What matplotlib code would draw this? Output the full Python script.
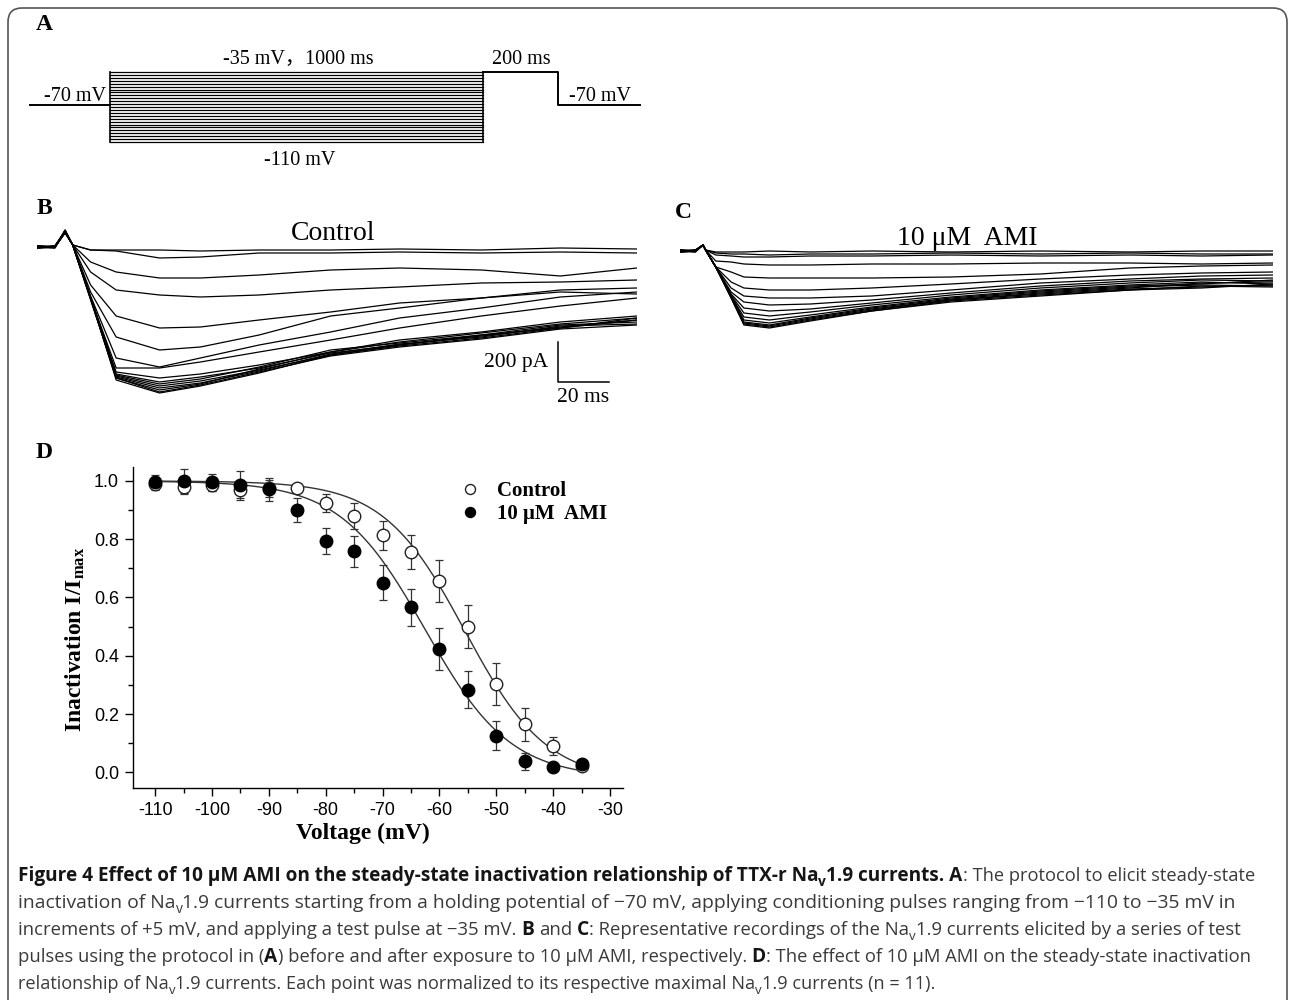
import numpy as np
import matplotlib
matplotlib.use("Agg")
import matplotlib.pyplot as plt
from matplotlib.patches import FancyBboxPatch
from matplotlib.ticker import MultipleLocator, FormatStrFormatter

W, H = 1290, 1000
SERIF = ["Liberation Serif", "Noto Sans CJK SC", "DejaVu Serif"]
SANS = ["Liberation Sans", "DejaVu Sans"]
CAP = ["Open Sans", "DejaVu Sans"]

plt.rcParams["font.family"] = SANS
plt.rcParams["axes.unicode_minus"] = False
plt.rcParams["mathtext.fontset"] = "custom"
plt.rcParams["mathtext.rm"] = "Liberation Serif"
plt.rcParams["mathtext.bf"] = "Liberation Serif:bold"
plt.rcParams["mathtext.it"] = "Liberation Serif:italic"

# ---------------- A: voltage protocol (mV, ms) ----------------
hold_mv = -70
test_mv = -35
pre_ms, cond_ms, test_ms, post_ms = 215, 1000, 200, 220
# conditioning steps as drawn in the schematic
cond_levels = [-110, -106.875, -103.75, -100.625, -97.5, -94.375, -91.25,
               -88.125, -85, -81.875, -78.75, -75.625, -72.5, -69.375,
               -66.25, -63.125, -60, -56.875, -53.75, -50.625, -47.5,
               -44.375, -41.25, -38.125, -35]

# ---------------- B: control current traces (pA vs ms) ----------------
t_ctrl = [0, 7, 11, 14, 21, 31, 48, 64, 87, 115, 142, 174, 205, 235]
ctrl_traces = [
    [5, 0, 75, 10, -15, -15, -15, -20, -15, -15, -10, -15, -5, -10],
    [-5, 0, 70, 10, -15, -20, -55, -50, -30, -30, -25, -30, -25, -30],
    [0, 5, 75, 10, -75, -125, -155, -155, -140, -115, -105, -115, -145, -105],
    [5, 0, 80, 10, -125, -215, -240, -250, -240, -215, -200, -180, -175, -165],
    [0, -5, 75, 10, -190, -345, -405, -400, -365, -325, -280, -255, -225, -235],
    [-5, 0, 70, 10, -225, -450, -515, -500, -440, -345, -305, -255, -215, -205],
    [0, 5, 80, 10, -245, -555, -600, -555, -490, -425, -355, -305, -250, -225],
    [5, 0, 75, 10, -255, -605, -605, -575, -525, -465, -405, -345, -295, -255],
    [0, 0, 85, 10, -255, -625, -655, -635, -590, -525, -475, -430, -385, -355],
    [-5, 5, 75, 10, -260, -635, -675, -650, -605, -530, -490, -445, -400, -365],
    [0, 0, 80, 10, -250, -640, -685, -660, -600, -515, -480, -440, -390, -375],
    [5, 0, 75, 10, -255, -645, -695, -670, -615, -540, -495, -455, -405, -355],
    [0, -5, 85, 10, -265, -650, -705, -680, -620, -535, -485, -450, -395, -385],
    [-5, 0, 75, 10, -255, -655, -715, -685, -610, -525, -465, -425, -375, -345],
    [0, 5, 80, 10, -260, -655, -725, -690, -625, -545, -500, -460, -410, -390],
    [5, 0, 75, 10, -255, -665, -730, -695, -630, -540, -490, -440, -405, -365],
]

# ---------------- C: 10 uM AMI current traces (pA vs ms) ----------------
t_ami = [0, 6, 9, 10, 14, 20, 25, 35, 51, 75, 106, 141, 176, 204, 232]
ami_traces = [
    [0, 0, 30, 5, -5, -5, -5, 0, -5, 0, -5, 0, -5, 0, 0],
    [5, 0, 30, 5, -10, -15, -15, -20, -15, -15, -10, -15, -10, -15, -15],
    [0, -5, 30, 5, -20, -25, -30, -30, -25, -25, -20, -25, -20, -25, -20],
    [-5, 0, 30, 5, -50, -55, -65, -70, -70, -65, -65, -60, -60, -65, -60],
    [0, 5, 30, 5, -80, -105, -130, -135, -135, -135, -130, -115, -85, -75, -70],
    [5, 0, 30, 5, -80, -155, -185, -195, -195, -185, -165, -140, -120, -110, -105],
    [0, 0, 30, 5, -80, -185, -225, -235, -235, -225, -195, -160, -140, -125, -120],
    [-5, 0, 30, 5, -80, -205, -255, -270, -265, -245, -210, -175, -150, -140, -135],
    [0, 5, 30, 5, -80, -215, -285, -300, -290, -260, -220, -185, -160, -145, -150],
    [5, 0, 30, 5, -80, -220, -310, -325, -305, -270, -230, -195, -170, -155, -165],
    [0, -5, 30, 5, -80, -225, -330, -345, -320, -280, -235, -200, -175, -165, -145],
    [-5, 0, 30, 5, -80, -225, -345, -360, -330, -285, -240, -205, -180, -170, -175],
    [0, 0, 30, 5, -80, -230, -355, -370, -335, -290, -245, -210, -185, -160, -155],
    [5, 0, 30, 5, -80, -230, -360, -375, -340, -295, -245, -215, -190, -180, -170],
    [0, 5, 30, 5, -80, -235, -365, -380, -345, -300, -250, -220, -195, -175, -180],
    [-5, 0, 30, 5, -80, -235, -370, -385, -350, -300, -255, -225, -195, -185, -165],
]
scale_pA, scale_ms = 200, 20

# ---------------- D: steady-state inactivation ----------------
volt = [-110, -105, -100, -95, -90, -85, -80, -75, -70, -65, -60, -55, -50, -45, -40, -35]
ctrl = [0.99, 0.98, 0.985, 0.97, 0.975, 0.977, 0.925, 0.88, 0.814, 0.756, 0.658, 0.50,
        0.303, 0.164, 0.09, 0.02]
ctrl_err = [0.02, 0.025, 0.02, 0.03, 0.03, 0.01, 0.03, 0.045, 0.05, 0.057, 0.072, 0.074,
            0.073, 0.057, 0.03, 0.01]
ami = [0.998, 1.0, 0.995, 0.985, 0.971, 0.90, 0.793, 0.759, 0.651, 0.566, 0.424, 0.283,
       0.126, 0.037, 0.017, 0.027]
ami_err = [0.023, 0.04, 0.03, 0.05, 0.04, 0.04, 0.044, 0.053, 0.061, 0.063, 0.072, 0.063,
           0.051, 0.03, 0.01, 0.01]
# Boltzmann fits: (V1/2, slope k, bottom)
ctrl_fit = (-55.5, 7.2, -0.03)
ami_fit = (-62.5, 7.5, -0.02)


def boltz(v, vh, k, bottom):
    return bottom + (1 - bottom) / (1 + np.exp((v - vh) / k))


fig = plt.figure(figsize=(W / 100, H / 100), dpi=100)
fig.patch.set_facecolor("white")

ov = fig.add_axes([0, 0, 1, 1])
ov.set_xlim(0, W)
ov.set_ylim(H, 0)
ov.axis("off")


def box(x0, y0, x1, y1):
    return fig.add_axes([x0 / W, 1 - y1 / H, (x1 - x0) / W, (y1 - y0) / H])


# rounded frame round the whole figure
ov.add_patch(FancyBboxPatch((8, 8), 1279, 1100, boxstyle="round,pad=0,rounding_size=14",
                            fill=False, ec="#555555", lw=1.2, clip_on=False))

# panel letters
for lab, x, y in [("A", 44, 24), ("B", 44, 208), ("C", 683, 212), ("D", 44, 453)]:
    ov.text(x, y, lab, family=SERIF, weight="bold", fontsize=17, ha="center", va="center")

# ---- A ----
axa = box(30, 72, 640, 142)
axa.set_xlim(-pre_ms, cond_ms + test_ms + post_ms)
axa.set_ylim(min(cond_levels), test_mv)
axa.axis("off")
for lv in cond_levels:
    axa.plot([0, cond_ms], [lv, lv], color="k", lw=0.9, clip_on=False)
axa.plot([-pre_ms, 0], [hold_mv, hold_mv], color="k", lw=1.4, clip_on=False)
axa.plot([0, 0], [min(cond_levels), test_mv], color="k", lw=1.2, clip_on=False)
axa.plot([cond_ms, cond_ms], [min(cond_levels), test_mv], color="k", lw=1.2, clip_on=False)
axa.plot([cond_ms, cond_ms + test_ms, cond_ms + test_ms, cond_ms + test_ms + post_ms],
         [test_mv, test_mv, hold_mv, hold_mv], color="k", lw=1.4, clip_on=False)
ov.text(106, 101, "-70 mV", family=SERIF, fontsize=14.5, ha="right", va="baseline")
ov.text(298, 64, "-35 mV，1000 ms", family=SERIF, fontsize=14.5, ha="center", va="baseline")
ov.text(521, 64, "200 ms", family=SERIF, fontsize=14.5, ha="center", va="baseline")
ov.text(569, 101, "-70 mV", family=SERIF, fontsize=14.5, ha="left", va="baseline")
ov.text(300, 165, "-110 mV", family=SERIF, fontsize=14.5, ha="center", va="baseline")

# ---- B ----
axb = box(37, 220, 637, 400)
axb.set_xlim(0, 235)
axb.set_ylim(-765, 135)
axb.axis("off")
for tr in ctrl_traces:
    axb.plot(t_ctrl, tr, color="k", lw=0.9)
sb_t, sb_i = 204, -675
axb.plot([sb_t, sb_t, sb_t + scale_ms], [sb_i + scale_pA, sb_i, sb_i], color="k", lw=1.1)
axb.text(sb_t - 4, sb_i + scale_pA / 2, "%d pA" % scale_pA, family=SERIF, fontsize=15.5,
         ha="right", va="center")
axb.text(sb_t + scale_ms / 2, sb_i - 80, "%d ms" % scale_ms, family=SERIF, fontsize=15.5,
         ha="center", va="center")
ov.text(333, 240, "Control", family=SERIF, fontsize=20, ha="center", va="baseline")

# ---- C ----
axc = box(680, 220, 1273, 400)
axc.set_xlim(0, 232)
axc.set_ylim(-745, 155)
axc.axis("off")
for tr in ami_traces:
    axc.plot(t_ami, tr, color="k", lw=0.9)
ov.text(967, 245, "10 μM  AMI", family=SERIF, fontsize=20, ha="center", va="baseline")

# ---- D ----
axd = box(133, 467, 623, 788)
v_fit = np.linspace(min(volt), max(volt), 300)
axd.plot(v_fit, boltz(v_fit, *ctrl_fit), color="#333333", lw=1.0, zorder=2)
axd.plot(v_fit, boltz(v_fit, *ami_fit), color="#333333", lw=1.0, zorder=2)
axd.errorbar(volt, ctrl, yerr=ctrl_err, fmt="none", ecolor="#333333", elinewidth=0.9,
             capsize=3, capthick=0.9, zorder=3)
axd.errorbar(volt, ami, yerr=ami_err, fmt="none", ecolor="#333333", elinewidth=0.9,
             capsize=3, capthick=0.9, zorder=3)
h1, = axd.plot(volt, ctrl, "o", ms=9, mfc="white", mec="#222222", mew=1.0, zorder=4)
h2, = axd.plot(volt, ami, "o", ms=9, mfc="black", mec="black", zorder=5)
axd.set_xlim(-113.9, -27.7)
axd.set_ylim(-0.054, 1.048)
for s in ["top", "right"]:
    axd.spines[s].set_visible(False)
for s in ["left", "bottom"]:
    axd.spines[s].set_linewidth(1.0)
axd.xaxis.set_major_locator(MultipleLocator(10))
axd.xaxis.set_minor_locator(MultipleLocator(5))
axd.yaxis.set_major_locator(MultipleLocator(0.2))
axd.yaxis.set_minor_locator(MultipleLocator(0.1))
axd.xaxis.set_major_formatter(FormatStrFormatter("%d"))
axd.yaxis.set_major_formatter(FormatStrFormatter("%.1f"))
axd.tick_params(which="major", direction="out", length=6, width=1.0, labelsize=13, pad=4)
axd.tick_params(which="minor", direction="out", length=3.5, width=1.0)
axd.legend([h1, h2], ["Control", "10 μM  AMI"], loc="upper left",
           bbox_to_anchor=(451 / W, 1 - 471 / H), bbox_transform=fig.transFigure,
           frameon=False, handlelength=0.8, handletextpad=0.9, labelspacing=0.12,
           borderpad=0, markerscale=0.8,
           prop=dict(family=SERIF, weight="bold", size=15))
ov.text(363, 833, "Voltage (mV)", family=SERIF, weight="bold", fontsize=17,
        ha="center", va="center")
ov.text(75, 639, r"Inactivation I/I$_\mathbf{max}$", family=SERIF, weight="bold",
        fontsize=17, ha="center", va="center", rotation=90)

# ---- caption ----
renderer = fig.canvas.get_renderer()


def seg_width(txt, **kw):
    t = ov.text(0, -500, txt, **kw)
    w = t.get_window_extent(renderer).width
    t.remove()
    return w


def rich_line(x, y, parts, size, bsize):
    reg = dict(family=CAP, fontsize=size, color="#3a3a3a")
    bold = dict(family=CAP, fontsize=bsize, color="#151515", weight="bold")
    sp = seg_width("a a", **reg) - seg_width("aa", **reg)
    drawn = []
    for txt, st in parts:
        kw = dict(bold if "b" in st else reg)
        yy = y
        if "s" in st:
            yy = y + kw["fontsize"] * 0.35
            kw["fontsize"] = kw["fontsize"] * 0.72
        core = txt.strip(" ")
        lead = len(txt) - len(txt.lstrip(" "))
        trail = len(txt) - len(txt.rstrip(" "))
        x += lead * sp
        t = ov.text(x, yy, core, va="baseline", ha="left", **kw)
        drawn.append(t)
        x += t.get_window_extent(renderer).width + trail * sp
    return x, drawn


def line_width(parts, size, bsize):
    x_end, tmp = rich_line(0, -300, parts, size, bsize)
    for t in tmp:
        t.remove()
    return x_end


cap_x = 18
cap_lines = [
    [("Figure 4 Effect of 10 μM AMI on the steady-state inactivation relationship of TTX-r Na", "b"),
     ("v", "bs"), ("1.9 currents. A", "b"), (": The protocol to elicit steady-state", "")],
    [("inactivation of Na", ""), ("v", "s"),
     ("1.9 currents starting from a holding potential of −70 mV, applying conditioning pulses "
      "ranging from −110 to −35 mV in", "")],
    [("increments of +5 mV, and applying a test pulse at −35 mV. ", ""), ("B", "b"), (" and ", ""),
     ("C", "b"), (": Representative recordings of the Na", ""), ("v", "s"),
     ("1.9 currents elicited by a series of test", "")],
    [("pulses using the protocol in (", ""), ("A", "b"),
     (") before and after exposure to 10 μM AMI, respectively. ", ""), ("D", "b"),
     (": The effect of 10 μM AMI on the steady-state inactivation", "")],
    [("relationship of Na", ""), ("v", "s"),
     ("1.9 currents. Each point was normalized to its respective maximal Na", ""), ("v", "s"),
     ("1.9 currents (n = 11).", "")],
]
# right ends of the caption lines in the reference
cap_ends = [1262, 1236, 1240, 1252, 940]

# regular size from the last line, bold size from line 1
reg_size = 12 * (cap_ends[4] - cap_x) / line_width(cap_lines[4], 12, 12)
w12 = line_width(cap_lines[0], reg_size, 12)
w6 = line_width(cap_lines[0], reg_size, 6)
wb = (w12 - w6) * 2
wr = w12 - wb
bold_size = 12 * (cap_ends[0] - cap_x - wr) / wb
for i, parts in enumerate(cap_lines):
    # small per-line correction so every line breaks where the reference does
    f = (cap_ends[i] - cap_x) / line_width(parts, reg_size, bold_size)
    rich_line(cap_x, 881 + 27 * i, parts, reg_size * f, bold_size * f)

fig.savefig("out.png", dpi=100, facecolor="white")
